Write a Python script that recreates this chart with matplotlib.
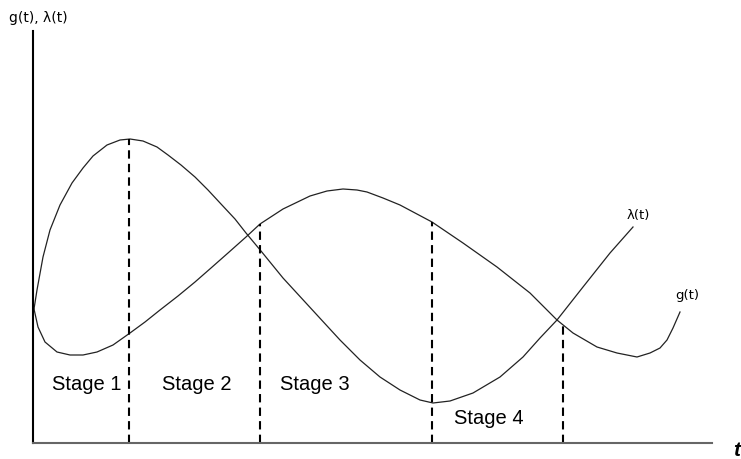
import matplotlib
matplotlib.use('Agg')
import matplotlib.pyplot as plt

# values (t and value in axis units, origin at the axes corner)
lam_t = [1, 4, 10, 17, 27, 39, 50, 60, 74, 87, 97, 110, 124, 135, 148, 162, 175, 188,
         202, 213, 228, 250, 284, 307, 327, 347, 367, 387, 400, 417, 440, 467, 490,
         507, 524, 550, 577, 600]
lam_v = [134, 153, 186, 213, 238, 260, 275, 287, 298, 303, 304, 302, 296, 288, 278, 266,
         253, 239, 224, 210, 192, 165, 128, 103, 83, 66, 53, 43, 40, 42, 50, 66, 86,
         105, 123, 156, 190, 216]

g_t = [1, 5, 12, 24, 37, 50, 64, 80, 97, 112, 127, 145, 162, 178, 195, 213, 227, 250,
       277, 294, 310, 324, 334, 350, 367, 399, 430, 464, 497, 524, 540, 564, 584, 604,
       617, 627, 634, 640, 647]
g_v = [134, 116, 101, 91, 88, 88, 91, 98, 110, 121, 133, 147, 161, 175, 190, 206, 219,
       234, 247, 252, 254, 253, 251, 245, 238, 221, 200, 176, 150, 123, 110, 96, 90, 86,
       90, 95, 103, 115, 131]

# stage boundaries and the height where each dashed line stops
bound_t = [96, 227, 399, 530]
bound_top = [304, 219, 221, 120]

stage_names = ['Stage 1', 'Stage 2', 'Stage 3', 'Stage 4']
stage_t = [54, 164, 282, 456]
stage_v = [59, 59, 59, 25]

fig = plt.figure(figsize=(7.41, 4.59), dpi=100)
ax = fig.add_axes([33 / 741, 16 / 459, 679 / 741, 412 / 459])
ax.set_xlim(0, 679)
ax.set_ylim(0, 412)

ax.plot(lam_t, lam_v, color='#222222', linewidth=0.9)
ax.plot(g_t, g_v, color='#222222', linewidth=0.9)

ax.vlines(bound_t, 0, bound_top, colors='black', linestyles=(0, (4, 2.5)), linewidth=1.5)

for name, t, v in zip(stage_names, stage_t, stage_v):
    ax.text(t, v, name, ha='center', va='center', fontsize=14.5, family='Liberation Sans')

ax.text(605, 228, 'λ(t)', ha='center', va='center', fontsize=9.5, family='DejaVu Sans')
ax.text(654, 147, 'g(t)', ha='center', va='center', fontsize=9.5, family='DejaVu Sans')

for side in ['top', 'right']:
    ax.spines[side].set_visible(False)
ax.spines['left'].set_linewidth(1.5)
ax.spines['left'].set_color('black')
ax.spines['bottom'].set_linewidth(1.5)
ax.spines['bottom'].set_color('#666666')
ax.set_xticks([])
ax.set_yticks([])

fig.text(38 / 741, 1 - 18 / 459, 'g(t), λ(t)', ha='center', va='center', fontsize=10,
         family='DejaVu Sans')
fig.text(737 / 741, 1 - 450 / 459, 't', ha='center', va='center', fontsize=15,
         family='Liberation Sans', fontweight='bold', fontstyle='italic')

fig.savefig('out.png', dpi=100)
